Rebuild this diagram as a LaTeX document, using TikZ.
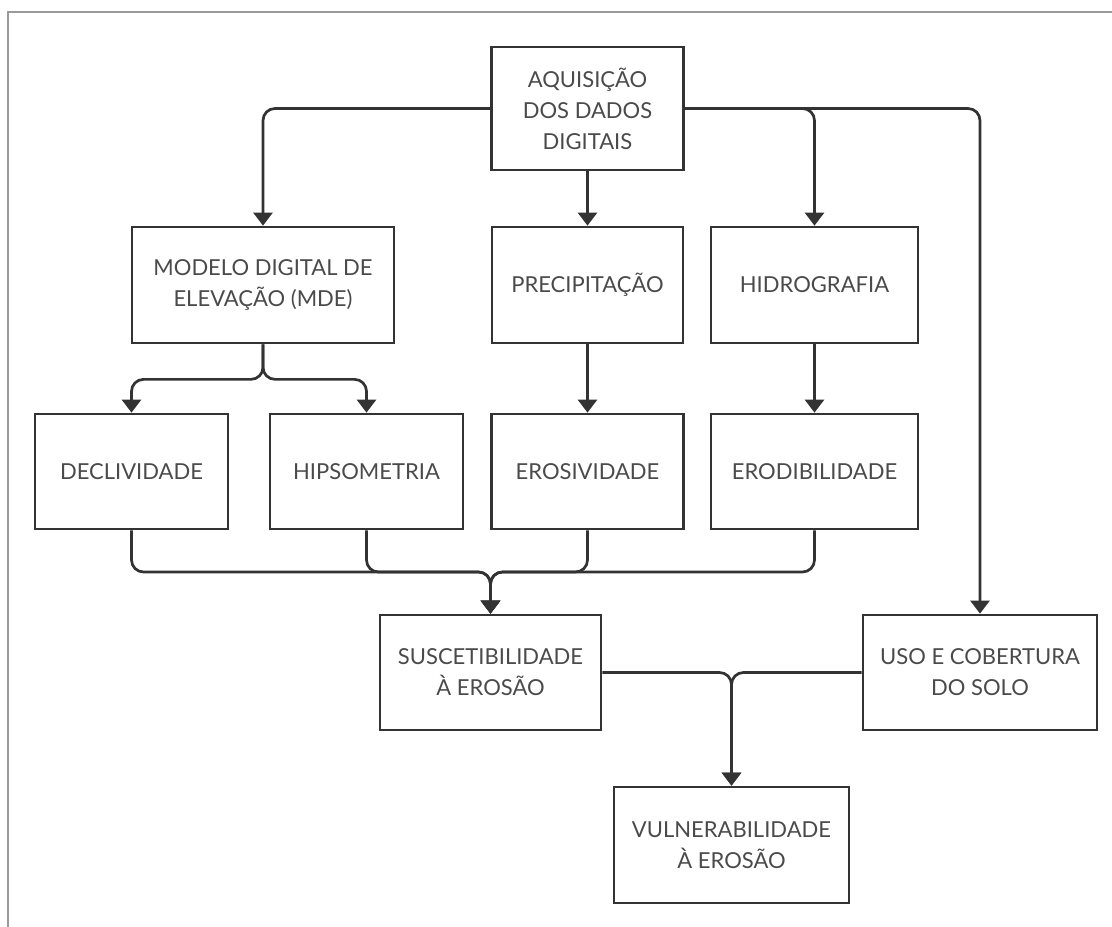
\documentclass[tikz,border=0pt]{standalone}
\usepackage{fontspec}
\setmainfont{Lato}
\usetikzlibrary{arrows.meta}
\definecolor{linha}{HTML}{333333}
\definecolor{texto}{HTML}{4A4A4A}
\definecolor{moldura}{HTML}{9A9A9A}
\tikzset{
  caixa/.style 2 args={draw=linha, line width=2.7pt, minimum width=#1pt,
    minimum height=#2pt, inner sep=0pt, align=center, text=texto,
    font=\fontsize{22}{31}\selectfont},
  seta/.style={draw=linha, line width=2.7pt, rounded corners=12pt,
    -{Triangle[width=19pt,length=13pt]}}
}
\begin{document}
\begin{tikzpicture}[x=1pt,y=-1pt]
\useasboundingbox (0,0) rectangle (1112,927);
% moldura
\draw[moldura, line width=1.2pt] (8,927) -- (8,12) -- (1112,12);
% caixas
\node[caixa={192}{123}] (aquis) at (587.5,108.5) {AQUISIÇÃO\\DOS DADOS\\DIGITAIS};
\node[caixa={262}{116}] (mde) at (263,285) {MODELO DIGITAL DE\\ELEVAÇÃO (MDE)};
\node[caixa={191}{116}] (precip) at (587.5,285) {PRECIPITAÇÃO};
\node[caixa={207}{116}] (hidro) at (814.5,285) {HIDROGRAFIA};
\node[caixa={193}{115}] (decl) at (131.5,471.5) {DECLIVIDADE};
\node[caixa={193}{115}] (hipso) at (366.5,471.5) {HIPSOMETRIA};
\node[caixa={192}{115}] (erosiv) at (587.5,471.5) {EROSIVIDADE};
\node[caixa={207}{115}] (erodib) at (814.5,471.5) {ERODIBILIDADE};
\node[caixa={221}{115}] (susc) at (490.5,672.5) {SUSCETIBILIDADE\\À EROSÃO};
\node[caixa={234}{115}] (uso) at (980,672.5) {USO E COBERTURA\\DO SOLO};
\node[caixa={235}{116}] (vuln) at (731.5,845) {VULNERABILIDADE\\À EROSÃO};
% setas
\draw[seta] (aquis.west) -| (mde.north);
\draw[seta] (aquis.south) -- (precip.north);
\foreach \alvo in {hidro,uso}
  \draw[seta] (aquis.east) -| (\alvo.north);
\foreach \alvo in {decl,hipso}
  \draw[seta] (mde.south) -- ++(0,35) -| (\alvo.north);
\draw[seta] (precip.south) -- (erosiv.north);
\draw[seta] (hidro.south) -- (erodib.north);
\coordinate (junta) at (490.5,572);
\foreach \orig in {decl,hipso,erosiv,erodib}
  \draw[seta] (\orig.south) |- (junta) -- (susc.north);
\foreach \orig in {susc.east,uso.west}
  \draw[seta] (\orig) -| (vuln.north);
\end{tikzpicture}
\end{document}
